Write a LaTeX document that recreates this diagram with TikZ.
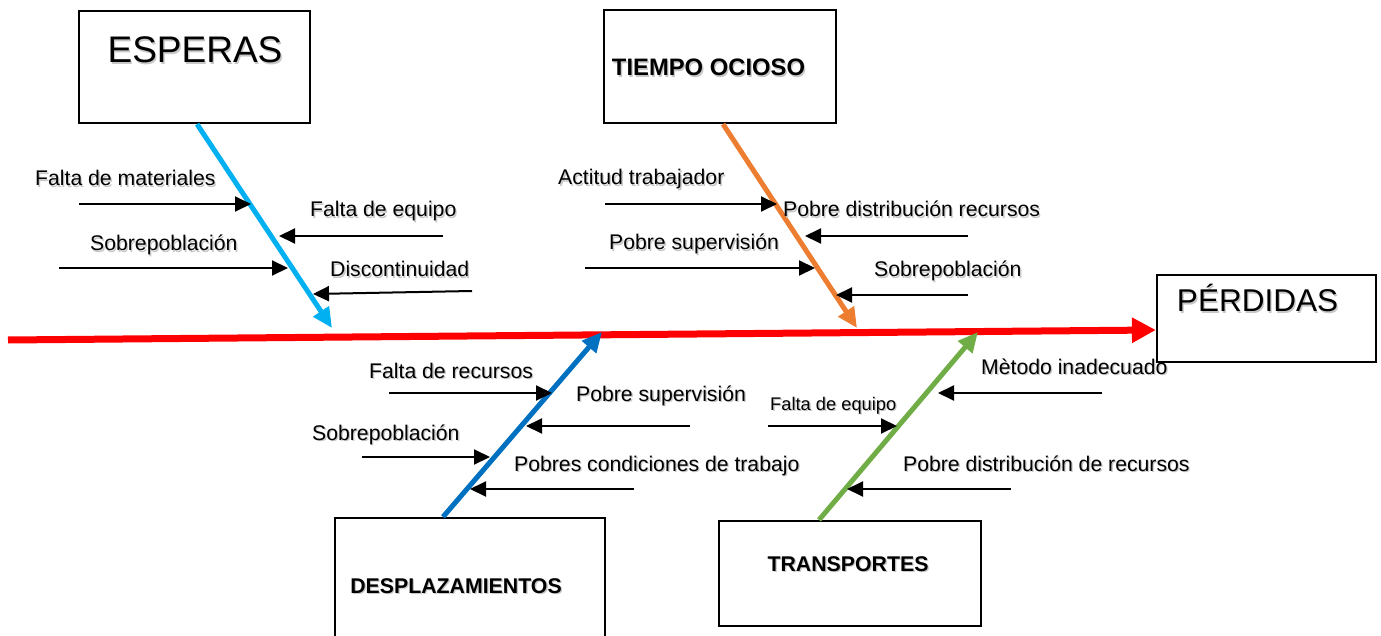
\documentclass[tikz,border=0pt]{standalone}
\usepackage{fontspec}
\setmainfont{Liberation Sans}
\usepackage{xcolor}
\usetikzlibrary{arrows.meta}

\definecolor{esperasblue}{RGB}{0,176,240}
\definecolor{ociosoorange}{RGB}{237,125,49}
\definecolor{desplblue}{RGB}{0,112,192}
\definecolor{transgreen}{RGB}{112,173,71}
\definecolor{spinered}{RGB}{255,0,0}

% text with a soft grey drop shadow
\newcommand{\shtxt}[1]{\makebox[0pt][l]{\kern1.3pt\raisebox{-1.3pt}{\color{black!22}#1}}#1}

\begin{document}
\begin{tikzpicture}[x=1pt,y=-1pt,>={Triangle[length=16pt,width=15pt]}]
 \tikzstyle{catbox}=[draw=black,line width=2.2pt,inner sep=0pt]
 \tikzstyle{cause}=[anchor=base west,inner sep=0pt,font=\fontsize{21.2}{24}\selectfont]
 \tikzstyle{smallcause}=[anchor=base west,inner sep=0pt,font=\fontsize{18.3}{22}\selectfont]
 \tikzstyle{cattext}=[anchor=base,inner sep=0pt,font=\fontsize{21.3}{25}\selectfont\bfseries]
 \tikzstyle{bone}=[line width=5pt,-{Triangle[length=20pt,width=18pt]}]
 \tikzstyle{sub}=[line width=2pt,->]

 \useasboundingbox (0,0) rectangle (1381,636);
 \clip (0,0) rectangle (1381,636);

 % category boxes
 \node (esp) at (194.5,67) [catbox,minimum width=231,minimum height=112] {};
 \node (tie) at (720,66.5) [catbox,minimum width=232,minimum height=113] {};
 \node (per) at (1266.5,318.5) [catbox,minimum width=219,minimum height=87] {};
 \node (des) at (470,581.5) [catbox,minimum width=270,minimum height=127] {};
 \node (tra) at (850,573.5) [catbox,minimum width=262,minimum height=105] {};

 \node (espT) at (195,63) [anchor=base,inner sep=0pt,font=\fontsize{37}{40}\selectfont] {\shtxt{ESPERAS}};
 \node (tieT) at (708.5,76) [cattext,font=\fontsize{23.8}{27}\selectfont\bfseries] {\shtxt{TIEMPO OCIOSO}};
 \node (perT) at (1257.5,312) [anchor=base,inner sep=0pt,font=\fontsize{31.5}{34}\selectfont] {\shtxt{PÉRDIDAS}};
 \node (desT) at (456,593) [cattext] {\shtxt{DESPLAZAMIENTOS}};
 \node (traT) at (848,571) [cattext] {\shtxt{TRANSPORTES}};

 % spine and main bones
 \coordinate (tail) at (8,340);
 \coordinate (sE) at (332,328);
 \coordinate (sT) at (857,328);
 \coordinate (sD) at (602,332);
 \coordinate (sR) at (978,332);
 \draw [line width=7pt,spinered,-{Triangle[length=24pt,width=24pt]}] (tail) -- ([yshift=-11.5pt]per.west);
 \draw [bone,esperasblue] ([xshift=2.5pt]esp.south) -- (sE);
 \draw [bone,ociosoorange] ([xshift=3pt]tie.south) -- (sT);
 \draw [bone,desplblue] ([xshift=-27pt]des.north) -- (sD);
 \draw [bone,transgreen] ([xshift=-31pt]tra.north) -- (sR);

 % ESPERAS
 \node (e1) at (35,186) [cause] {\shtxt{Falta de materiales}};
 \node (e2) at (310,217) [cause] {\shtxt{Falta de equipo}};
 \node (e3) at (90,251) [cause] {\shtxt{Sobrepoblación}};
 \node (e4) at (330,277) [cause] {\shtxt{Discontinuidad}};
 \coordinate (e1a) at (79,204);  \coordinate (e1b) at (251,204);
 \coordinate (e2a) at (443,236); \coordinate (e2b) at (279,236);
 \coordinate (e3a) at (59,268);  \coordinate (e3b) at (288,268);
 \coordinate (e4a) at (472,291); \coordinate (e4b) at (313,294);
 \draw [sub] (e1a) -- (e1b);
 \draw [sub] (e2a) -- (e2b);
 \draw [sub] (e3a) -- (e3b);
 \draw [sub] (e4a) -- (e4b);

 % TIEMPO OCIOSO
 \node (t1) at (558,185) [cause] {\shtxt{Actitud trabajador}};
 \node (t2) at (783,217) [cause] {\shtxt{Pobre distribución recursos}};
 \node (t3) at (609,250) [cause] {\shtxt{Pobre supervisión}};
 \node (t4) at (874,277) [cause] {\shtxt{Sobrepoblación}};
 \coordinate (t1a) at (605,204); \coordinate (t1b) at (777,204);
 \coordinate (t2a) at (968,236); \coordinate (t2b) at (805,236);
 \coordinate (t3a) at (585,268); \coordinate (t3b) at (815,268);
 \coordinate (t4a) at (968,295); \coordinate (t4b) at (836,295);
 \draw [sub] (t1a) -- (t1b);
 \draw [sub] (t2a) -- (t2b);
 \draw [sub] (t3a) -- (t3b);
 \draw [sub] (t4a) -- (t4b);

 % DESPLAZAMIENTOS
 \node (d1) at (369,378) [cause] {\shtxt{Falta de recursos}};
 \node (d2) at (576,401) [cause] {\shtxt{Pobre supervisión}};
 \node (d3) at (312,440) [cause] {\shtxt{Sobrepoblación}};
 \node (d4) at (514,471) [cause] {\shtxt{Pobres condiciones de trabajo}};
 \coordinate (d1a) at (389,393); \coordinate (d1b) at (552,393);
 \coordinate (d2a) at (690,426); \coordinate (d2b) at (526,426);
 \coordinate (d3a) at (362,457); \coordinate (d3b) at (490,457);
 \coordinate (d4a) at (634,489); \coordinate (d4b) at (470,489);
 \draw [sub] (d1a) -- (d1b);
 \draw [sub] (d2a) -- (d2b);
 \draw [sub] (d3a) -- (d3b);
 \draw [sub] (d4a) -- (d4b);

 % TRANSPORTES
 \node (r1) at (981,374) [cause] {\shtxt{Mètodo inadecuado}};
 \node (r2) at (770,410) [smallcause] {\shtxt{Falta de equipo}};
 \node (r3) at (903,471) [cause] {\shtxt{Pobre distribución de recursos}};
 \coordinate (r1a) at (1102,393); \coordinate (r1b) at (938,393);
 \coordinate (r2a) at (768,426);  \coordinate (r2b) at (897,426);
 \coordinate (r3a) at (1011,489); \coordinate (r3b) at (847,489);
 \draw [sub] (r1a) -- (r1b);
 \draw [sub] (r2a) -- (r2b);
 \draw [sub] (r3a) -- (r3b);

\end{tikzpicture}
\end{document}
